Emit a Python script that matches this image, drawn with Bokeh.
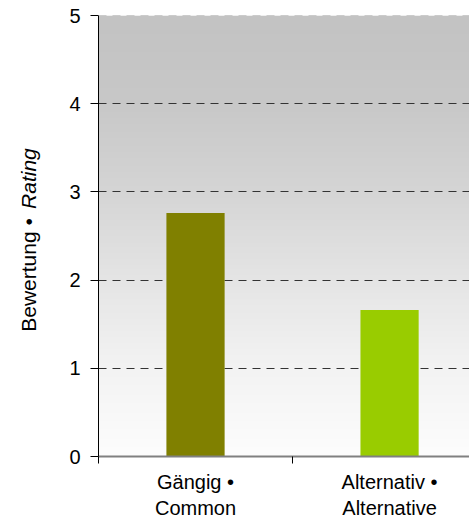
import numpy as np
from bokeh.plotting import figure
from bokeh.layouts import row
from bokeh.models import Range1d, FixedTicker, Span, Label
from bokeh.embed import file_html
from bokeh.resources import INLINE

# ---- data ----
categories = ["Gängig •\nCommon", "Alternativ •\nAlternative"]
ratings = [2.76, 1.66]
bar_colors = ["#808000", "#99cc00"]
y_ticks = [0, 1, 2, 3, 4, 5]
grid_values = [1, 2, 3, 4]
y_label_main = "Bewertung • "
y_label_italic = "Rating"

x_pos = [0.5, 1.5]
XMAX = 1.912
FONT = "Liberation Sans"
W, H = 469, 521
LEFT_W = 45

# ---- left strip holding the mixed-style y-axis title ----
# (its frame is aligned with the main chart's frame, so it shares the 0..5 scale)
lab = figure(width=LEFT_W, height=H, output_backend="svg", toolbar_location=None,
             x_range=Range1d(0, LEFT_W), y_range=Range1d(0, 5),
             min_border_left=0, min_border_right=0,
             min_border_top=15, min_border_bottom=64)
lab.axis.visible = False
lab.grid.visible = False
lab.outline_line_color = None
lab.background_fill_color = "white"
lab.border_fill_color = "white"
lab.add_layout(Label(x=28, y=1.414, text=y_label_main, angle=np.pi / 2,
                     text_align="left", text_baseline="middle",
                     text_font=FONT, text_font_size="21px", text_color="black"))
lab.add_layout(Label(x=28, y=3.495, text=y_label_italic, angle=np.pi / 2,
                     text_align="right", text_baseline="middle",
                     text_font=FONT, text_font_size="21px",
                     text_font_style="italic", text_color="black"))

# ---- main chart ----
p = figure(width=W - LEFT_W, height=H, output_backend="svg", toolbar_location=None,
           x_range=Range1d(0, XMAX), y_range=Range1d(0, 5),
           min_border_left=98 - LEFT_W, min_border_right=0, min_border_top=15,
           min_border_bottom=64)
p.outline_line_color = None
p.background_fill_color = "white"
p.border_fill_color = "white"

# gradient background (style only)
rows = 220
stop_vals = [0, 1, 2, 3, 4, 5]
stop_grey = [253, 243, 229, 213, 200, 195]
yy = np.linspace(0, 5, rows)
g = np.interp(yy, stop_vals, stop_grey).astype(np.uint8)
img = np.empty((rows, 1), dtype=np.uint32)
view = img.view(dtype=np.uint8).reshape((rows, 1, 4))
view[:, 0, 0] = g
view[:, 0, 1] = g
view[:, 0, 2] = g
view[:, 0, 3] = 255
p.image_rgba(image=[img], x=0, y=0, dw=XMAX, dh=5, level="image")

# bars
p.vbar(x=x_pos, top=ratings, width=0.3, bottom=0, color=bar_colors,
       line_color=None)

# grid
p.xgrid.visible = False
p.ygrid.ticker = FixedTicker(ticks=grid_values)
p.ygrid.grid_line_color = "#333333"
p.ygrid.grid_line_dash = "8 6"
p.ygrid.grid_line_width = 1
p.ygrid.level = "underlay"
p.add_layout(Span(location=5, dimension="width", line_color="#a8a8a8",
                  line_dash="8 6", line_width=1))

# y axis
ya = p.yaxis[0]
ya.ticker = FixedTicker(ticks=y_ticks)
ya.axis_line_color = "black"
ya.major_tick_line_color = "black"
ya.major_tick_out = 8
ya.major_tick_in = 0
ya.minor_tick_out = 0
ya.minor_tick_in = 0
ya.major_label_text_font = FONT
ya.major_label_text_font_size = "20px"
ya.major_label_text_color = "black"
ya.major_label_standoff = 10

# x axis
xa = p.xaxis[0]
xa.ticker = FixedTicker(ticks=x_pos, minor_ticks=[0, 1, 2])
xa.axis_line_color = "#808080"
xa.axis_line_width = 2
xa.major_tick_out = 0
xa.major_tick_in = 0
xa.minor_tick_out = 7
xa.minor_tick_in = 0
xa.minor_tick_line_color = "black"
xa.major_label_overrides = {x: c for x, c in zip(x_pos, categories)}
xa.major_label_text_font = FONT
xa.major_label_text_font_size = "20px"
xa.major_label_text_color = "black"
xa.major_label_standoff = 7

layout = row(lab, p, spacing=0)
open("out.html", "w").write(file_html(layout, INLINE))
